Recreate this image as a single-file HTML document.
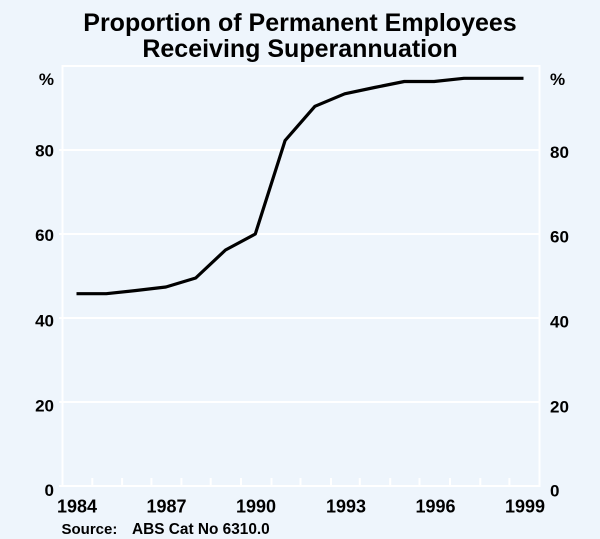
<!DOCTYPE html>
<html>
<head>
<meta charset="utf-8">
<style>
  html, body { margin: 0; padding: 0; background: #eef5fc; }
  svg { display: block; }
  text { font-family: "Liberation Sans", Arial, sans-serif; font-weight: bold; fill: #000; }
</style>
</head>
<body>
<svg width="600" height="539" viewBox="0 0 600 539" xmlns="http://www.w3.org/2000/svg">
  <rect x="0" y="0" width="600" height="539" fill="#eef5fc"/>

  <!-- Title -->
  <text x="300" y="31" font-size="25" text-anchor="middle">Proportion of Permanent Employees</text>
  <text x="300" y="57" font-size="25" text-anchor="middle">Receiving Superannuation</text>

  <!-- Gridlines -->
  <g stroke="#ffffff" stroke-width="2" fill="none">
    <line x1="59" y1="150" x2="539.5" y2="150"/>
    <line x1="59" y1="234" x2="539.5" y2="234"/>
    <line x1="59" y1="318" x2="539.5" y2="318"/>
    <line x1="59" y1="402" x2="539.5" y2="402"/>
    <line x1="59" y1="486" x2="539.5" y2="486"/>
    <rect x="62.5" y="66" width="477" height="420"/>
    <!-- bottom ticks -->
    <line x1="92.3" y1="478" x2="92.3" y2="486"/>
    <line x1="122.1" y1="478" x2="122.1" y2="486"/>
    <line x1="151.4" y1="478" x2="151.4" y2="486"/>
    <line x1="181.4" y1="478" x2="181.4" y2="486"/>
    <line x1="210.7" y1="478" x2="210.7" y2="486"/>
    <line x1="241" y1="478" x2="241" y2="486"/>
    <line x1="271.5" y1="478" x2="271.5" y2="486"/>
    <line x1="300.5" y1="478" x2="300.5" y2="486"/>
    <line x1="331" y1="478" x2="331" y2="486"/>
    <line x1="359.8" y1="478" x2="359.8" y2="486"/>
    <line x1="390.2" y1="478" x2="390.2" y2="486"/>
    <line x1="419.5" y1="478" x2="419.5" y2="486"/>
    <line x1="450" y1="478" x2="450" y2="486"/>
    <line x1="480.3" y1="478" x2="480.3" y2="486"/>
    <line x1="509.4" y1="478" x2="509.4" y2="486"/>
  </g>

  <!-- Data line -->
  <polyline fill="none" stroke="#000" stroke-width="3.2" stroke-linejoin="round"
    points="76.5,293.7 106.3,293.7 136.1,290.5 165.9,287 195.7,278 225.5,250 255.3,234 285.1,140.5 314.9,106.3 344.7,93.8 374.5,87.5 404.3,81.5 434.1,81.5 463.9,78.3 493.7,78.3 523.5,78.3"/>

  <!-- Left axis labels -->
  <g font-size="17" text-anchor="end">
    <text x="54" y="85">%</text>
    <text x="54" y="156.7">80</text>
    <text x="54" y="241.2">60</text>
    <text x="54" y="326.5">40</text>
    <text x="54" y="411.5">20</text>
    <text x="54" y="496">0</text>
  </g>
  <!-- Right axis labels -->
  <g font-size="17" text-anchor="start">
    <text x="550" y="85">%</text>
    <text x="550" y="158">80</text>
    <text x="550" y="242.5">60</text>
    <text x="550" y="327.5">40</text>
    <text x="550" y="412.5">20</text>
    <text x="550" y="496.5">0</text>
  </g>

  <!-- X labels -->
  <g font-size="18" text-anchor="middle">
    <text x="77" y="512.5">1984</text>
    <text x="166.5" y="512.5">1987</text>
    <text x="256" y="512.5">1990</text>
    <text x="346" y="512.5">1993</text>
    <text x="435.5" y="512.5">1996</text>
    <text x="525" y="512.5">1999</text>
  </g>

  <!-- Source -->
  <text x="61.5" y="534" font-size="15">Source:</text>
  <text x="132" y="534" font-size="15.4">ABS Cat No 6310.0</text>
</svg>
</body>
</html>
